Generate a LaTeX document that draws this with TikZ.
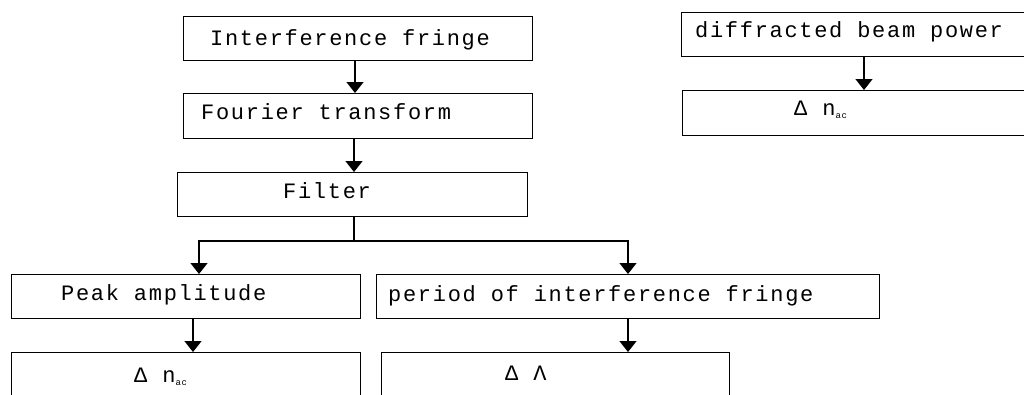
\documentclass[tikz,border=0pt]{standalone}
\usepackage{fontspec}
\setmainfont{Liberation Mono}[LetterSpace=7.7]
\usetikzlibrary{arrows.meta}
\newcommand{\subac}{\raisebox{-3pt}{\fontsize{9}{9}\selectfont ac}}
\tikzset{
  box/.style={draw, line width=1.4pt, rectangle, anchor=north west, inner sep=0pt},
  lbl/.style={anchor=base west, inner sep=0pt, font=\fontsize{22}{24}\selectfont},
  arr/.style={line width=1.4pt, -{Triangle[width=17pt,length=11pt]}},
  link/.style={line width=1.4pt}
}
\begin{document}
\begin{tikzpicture}[x=1pt,y=-1pt]
\useasboundingbox (0,0) rectangle (1024,394);
\clip (0,0) rectangle (1024,394);

% left chain
\node[box, minimum width=349pt, minimum height=44pt] (b1) at (183,16) {};
\node[box, minimum width=349pt, minimum height=45pt] (b2) at (183,93) {};
\node[box, minimum width=350pt, minimum height=44pt] (b3) at (177,172) {};
\node[box, minimum width=349pt, minimum height=44pt] (b4) at (11,274) {};
\node[box, minimum width=503pt, minimum height=44pt] (b5) at (376,274) {};
\node[box, minimum width=349pt, minimum height=70pt] (b6) at (11,352) {};
\node[box, minimum width=348pt, minimum height=70pt] (b7) at (381,352) {};

% right chain
\node[box, minimum width=360pt, minimum height=44pt] (b8) at (681,12) {};
\node[box, minimum width=360pt, minimum height=45pt] (b9) at (682,90) {};

% labels
\node[lbl] (t1) at (210,45) {Interference fringe};
\node[lbl] (t2) at (201,119) {Fourier transform};
\node[lbl] (t3) at (283,198) {Filter};
\node[lbl] (t4) at (61,300) {Peak amplitude};
\node[lbl] (t5) at (388,301) {period of interference fringe};
\node[lbl] (t6) at (134,382) {Δ n\subac};
\node[lbl] (t7) at (505,380) {Δ Λ};
\node[lbl] (t8) at (695,37) {diffracted beam power};
\node[lbl] (t9) at (794,115) {Δ n\subac};

% connectors
\coordinate (fork) at (354,241);
\draw[arr] (355,0 |- b1.south) -- (355,0 |- b2.north);
\draw[arr] (354,0 |- b2.south) -- (354,0 |- b3.north);
\draw[link] (fork |- b3.south) -- (fork);
\draw[arr] (fork) -| (199,0 |- b4.north);
\draw[arr] (fork) -| (628,0 |- b5.north);
\draw[arr] (193,0 |- b4.south) -- (193,0 |- b6.north);
\draw[arr] (628,0 |- b5.south) -- (628,0 |- b7.north);
\draw[arr] (864,0 |- b8.south) -- (864,0 |- b9.north);
\end{tikzpicture}
\end{document}
